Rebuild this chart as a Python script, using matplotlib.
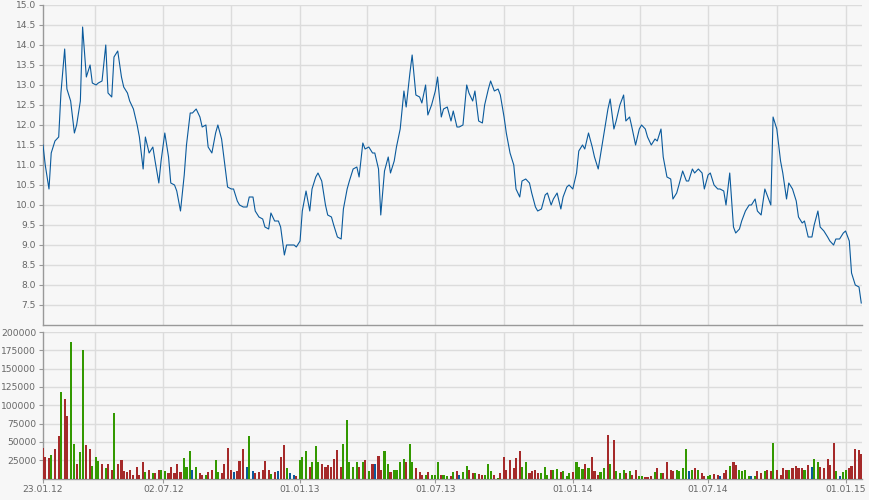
import matplotlib
matplotlib.use("Agg")
import matplotlib.pyplot as plt
import pandas as pd
import numpy as np

# price sampled every 3rd trading day starting 23.01.2012
price = [
    11.5, 11.0, 10.4, 11.3, 11.6, 11.7, 12.8, 13.9, 12.9, 12.6,
    11.8, 12.0, 12.6, 14.45, 13.2, 13.5, 13.05, 13.0, 13.05, 13.1,
    14.0, 12.8, 12.7, 13.7, 13.85, 13.2, 12.95, 12.8, 12.6, 12.4,
    12.0, 11.7, 10.9, 11.7, 11.3, 11.45, 11.1, 10.55, 11.1, 11.8,
    11.2, 10.55, 10.5, 10.35, 9.85, 10.75, 11.5, 12.3, 12.3, 12.4,
    12.2, 11.95, 12.0, 11.45, 11.3, 11.8, 12.0, 11.65, 11.2, 10.45,
    10.4, 10.4, 10.1, 10.0, 9.95, 9.95, 10.2, 10.2, 9.85, 9.7,
    9.65, 9.45, 9.4, 9.8, 9.6, 9.6, 9.45, 8.75, 9.0, 9.0,
    9.0, 8.95, 9.1, 9.85, 10.35, 9.85, 10.4, 10.7, 10.8, 10.6,
    10.0, 9.75, 9.7, 9.5, 9.2, 9.15, 9.9, 10.4, 10.6, 10.9,
    10.95, 10.7, 11.55, 11.4, 11.45, 11.3, 11.3, 10.9, 9.75, 10.85,
    11.2, 10.8, 11.1, 11.45, 11.9, 12.85, 12.45, 13.3, 13.75, 12.75,
    12.7, 12.55, 13.0, 12.25, 12.5, 12.85, 13.2, 12.2, 12.4, 12.45,
    12.1, 12.35, 11.95, 11.95, 12.0, 13.0, 12.8, 12.6, 12.85, 12.1,
    12.05, 12.5, 12.9, 13.1, 12.85, 12.9, 12.75, 12.2, 11.8, 11.3,
    11.0, 10.4, 10.2, 10.6, 10.65, 10.55, 10.3, 9.95, 9.85, 9.9,
    10.25, 10.3, 10.0, 10.15, 10.3, 9.9, 10.2, 10.45, 10.5, 10.4,
    10.8, 11.35, 11.5, 11.4, 11.8, 11.45, 11.2, 10.9, 11.25, 11.85,
    12.4, 12.65, 11.9, 12.1, 12.5, 12.75, 12.1, 12.2, 11.95, 11.5,
    11.9, 12.0, 11.9, 11.7, 11.5, 11.65, 11.6, 11.9, 11.2, 10.7,
    10.65, 10.15, 10.3, 10.5, 10.85, 10.6, 10.6, 10.9, 10.8, 10.9,
    10.8, 10.4, 10.75, 10.8, 10.5, 10.4, 10.4, 10.35, 10.0, 10.8,
    9.45, 9.3, 9.4, 9.6, 9.85, 10.0, 10.0, 10.15, 9.85, 9.75,
    10.4, 10.25, 10.0, 12.2, 11.9, 11.1, 10.8, 10.15, 10.55, 10.4,
    10.1, 9.7, 9.55, 9.6, 9.2, 9.2, 9.5, 9.85, 9.45, 9.35,
    9.2, 9.1, 9.0, 9.15, 9.15, 9.3, 9.35, 9.1, 8.3, 8.0,
    7.95, 7.55,
]

volume = [
    42000, 30000, 28000, 32000, 40000, 58000, 118000, 108000, 85000, 186000,
    47000, 20000, 36000, 176000, 46000, 40000, 17000, 30000, 24000, 20000,
    14000, 20000, 12000, 90000, 20000, 25000, 10000, 9000, 11000, 5000,
    16000, 5000, 22000, 9000, 12000, 7000, 8000, 12000, 12000, 10000,
    8000, 16000, 8000, 20000, 9000, 28000, 16000, 37000, 12000, 16000,
    7000, 5000, 5000, 9000, 12000, 25000, 9000, 7000, 20000, 41000,
    12000, 9000, 10000, 24000, 40000, 16000, 58000, 10000, 8000, 9000,
    12000, 24000, 12000, 6000, 9000, 10000, 30000, 46000, 14000, 7000,
    5000, 4000, 25000, 30000, 37000, 16000, 22000, 44000, 22000, 20000,
    16000, 18000, 16000, 26000, 39000, 16000, 47000, 80000, 22000, 16000,
    22000, 16000, 22000, 25000, 10000, 20000, 20000, 31000, 12000, 38000,
    20000, 9000, 12000, 12000, 22000, 27000, 22000, 47000, 22000, 14000,
    9000, 5000, 5000, 9000, 5000, 5000, 23000, 5000, 5000, 3000,
    3000, 9000, 10000, 5000, 9000, 17000, 12000, 8000, 8000, 6000,
    5000, 5000, 20000, 10000, 5000, 1000, 8000, 30000, 12000, 25000,
    14000, 28000, 37000, 16000, 22000, 7000, 10000, 11000, 8000, 7000,
    16000, 5000, 12000, 12000, 13000, 9000, 10000, 3000, 8000, 9000,
    22000, 16000, 13000, 20000, 14000, 30000, 10000, 5000, 9000, 14000,
    59000, 20000, 53000, 10000, 8000, 11000, 8000, 10000, 5000, 12000,
    4000, 4000, 2000, 2000, 3000, 9000, 14000, 8000, 7000, 22000,
    12000, 10000, 11000, 10000, 14000, 40000, 10000, 11000, 14000, 11000,
    7000, 3000, 3000, 5000, 6000, 5000, 3000, 8000, 12000, 17000,
    23000, 18000, 12000, 10000, 11000, 3000, 3000, 3000, 10000, 7000,
    10000, 11000, 10000, 49000, 12000, 5000, 15000, 12000, 12000, 14000,
    17000, 14000, 14000, 11000, 18000, 16000, 26000, 22000, 16000, 14000,
    27000, 18000, 49000, 10000, 3000, 9000, 11000, 14000, 17000, 40000,
    39000, 34000,
]

# bar colours for the notable bars (others follow price change)
up_bars = [3, 6, 9, 10, 12, 13, 16, 17, 18, 20, 23, 66, 87, 96, 97, 109, 117, 205, 233]
down_bars = [0, 1, 2, 4, 5, 7, 8, 11, 14, 15, 19, 21, 22, 24, 25, 59, 64, 77,
             147, 152, 175, 180, 182, 252, 259, 260, 261]

label_dates = ["2012-01-23", "2012-07-02", "2013-01-01", "2013-07-01",
               "2014-01-01", "2014-07-01", "2015-01-01"]
label_texts = ["23.01.12", "02.07.12", "01.01.13", "01.07.13",
               "01.01.14", "01.07.14", "01.01.15"]
price_ticks = [7.5, 8.0, 8.5, 9.0, 9.5, 10.0, 10.5, 11.0, 11.5, 12.0,
               12.5, 13.0, 13.5, 14.0, 14.5, 15.0]
vol_ticks = [25000, 50000, 75000, 100000, 125000, 150000, 175000, 200000]

bdays = pd.bdate_range("2012-01-23", periods=len(price) * 3)
dates = bdays[::3][:len(price)]

BG = "#f7f7f7"
GRID = "#dcdcdc"
SPINE = "#999999"
TXT = "#666666"
LINE = "#0a5a9c"
GREEN = "#339900"
RED = "#a52a2a"

fig = plt.figure(figsize=(8.7, 5.0), dpi=100, facecolor=BG)
ax1 = fig.add_axes([43 / 870, 175 / 500, 819 / 870, 320 / 500], facecolor=BG)
ax2 = fig.add_axes([43 / 870, 21.5 / 500, 819 / 870, 146.5 / 500], facecolor=BG, sharex=ax1)

x0 = pd.Timestamp("2012-01-23")
x1 = x0 + pd.Timedelta(days=1096)
quarters = pd.date_range("2012-04-01", "2015-01-01", freq="QS")

ax1.plot(dates, price, color=LINE, lw=0.8, zorder=3)
ax1.set_ylim(7.0, 15.0)
ax1.set_yticks(price_ticks)
ax1.set_yticklabels([f"{v:.1f}" for v in price_ticks])

pr = np.array(price)
colors = [RED] + [GREEN if pr[i] > pr[i - 1] else (RED if pr[i] < pr[i - 1] else LINE)
                  for i in range(1, len(pr))]
for i in up_bars:
    colors[i] = GREEN
for i in down_bars:
    colors[i] = RED
ax2.bar(dates, volume, width=2.8, color=colors, align="center", zorder=3, linewidth=0)
ax2.set_ylim(0, 200000)
ax2.set_yticks(vol_ticks)
ax2.set_yticklabels([str(v) for v in vol_ticks])

for ax in (ax1, ax2):
    ax.set_xlim(x0, x1)
    for q in quarters:
        ax.axvline(q, color=GRID, lw=1.0, zorder=1)
    ax.grid(axis="y", color=GRID, lw=1.0, zorder=1)
    ax.set_axisbelow(True)
    for s in ("top", "right"):
        ax.spines[s].set_visible(False)
    for s in ("left", "bottom"):
        ax.spines[s].set_color(SPINE)
        ax.spines[s].set_linewidth(1.0)
    ax.tick_params(axis="y", colors=SPINE, labelcolor=TXT, labelsize=6.6,
                   length=3, width=0.8, pad=2)
    ax.tick_params(axis="x", colors=SPINE, labelcolor=TXT, labelsize=6.6,
                   length=3, width=0.8, pad=2)

ax2.set_xticks([pd.Timestamp(d) for d in label_dates])
ax2.set_xticklabels(label_texts)
ax1.tick_params(axis="x", labelbottom=False, length=0)

fig.savefig("out.png", dpi=100, facecolor=BG)
